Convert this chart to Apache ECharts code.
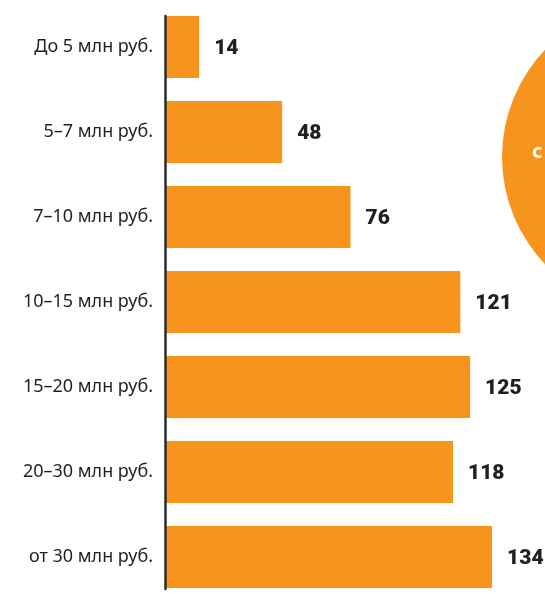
<!DOCTYPE html>
<html>
<head>
<meta charset="utf-8">
<script src="https://cdn.jsdelivr.net/npm/echarts@6/dist/echarts.min.js"></script>
<style>
  html, body { margin: 0; padding: 0; background: #fff; }
  #chart { width: 545px; height: 594px; }
</style>
</head>
<body>
<div id="chart"></div>
<script>
var categories = [
  "До 5 млн руб.",
  "5–7 млн руб.",
  "7–10 млн руб.",
  "10–15 млн руб.",
  "15–20 млн руб.",
  "20–30 млн руб.",
  "от 30 млн руб."
];
var values = [14, 48, 76, 121, 125, 118, 134];

var orange = "#F7941D";
var dark = "#231F20";

var myChart = echarts.init(document.getElementById("chart"));
myChart.setOption({
  animation: false,
  grid: [
    { left: 165, width: 380, top: 4.5, height: 595, outerBoundsMode: "none" },
    // only carries the black vertical axis line
    { left: 165, width: 380, top: 16, height: 573, outerBoundsMode: "none" }
  ],
  xAxis: [
    { gridIndex: 0, type: "value", min: 0, max: 155.7, show: false },
    { gridIndex: 1, type: "value", min: 0, max: 1, show: false }
  ],
  yAxis: [
    {
      gridIndex: 0,
      type: "category",
      inverse: true,
      data: categories,
      axisLine: { show: false },
      axisTick: { show: false },
      axisLabel: {
        margin: 12,
        color: dark,
        fontFamily: "Noto Sans",
        fontSize: 18
      }
    },
    {
      gridIndex: 1,
      type: "value",
      min: 0,
      max: 1,
      z: 5,
      axisLine: { show: true, lineStyle: { color: "#2b2b2b", width: 2.5 } },
      axisTick: { show: false },
      axisLabel: { show: false },
      splitLine: { show: false }
    }
  ],
  graphic: [
    {
      type: "circle",
      shape: { cx: 657, cy: 157, r: 155 },
      style: { fill: orange },
      z: 0
    },
    {
      type: "text",
      x: 532,
      y: 152,
      style: {
        text: "с",
        fill: "#fff",
        font: "bold 20px 'Noto Sans'",
        verticalAlign: "middle"
      },
      z: 1
    }
  ],
  series: [
    {
      type: "bar",
      xAxisIndex: 0,
      yAxisIndex: 0,
      data: values,
      barWidth: 62,
      itemStyle: { color: orange },
      label: {
        show: true,
        position: "right",
        distance: 15,
        offset: [0, 2],
        color: dark,
        fontFamily: "Roboto",
        fontWeight: 900,
        fontSize: 21
      }
    }
  ]
});
</script>
</body>
</html>
